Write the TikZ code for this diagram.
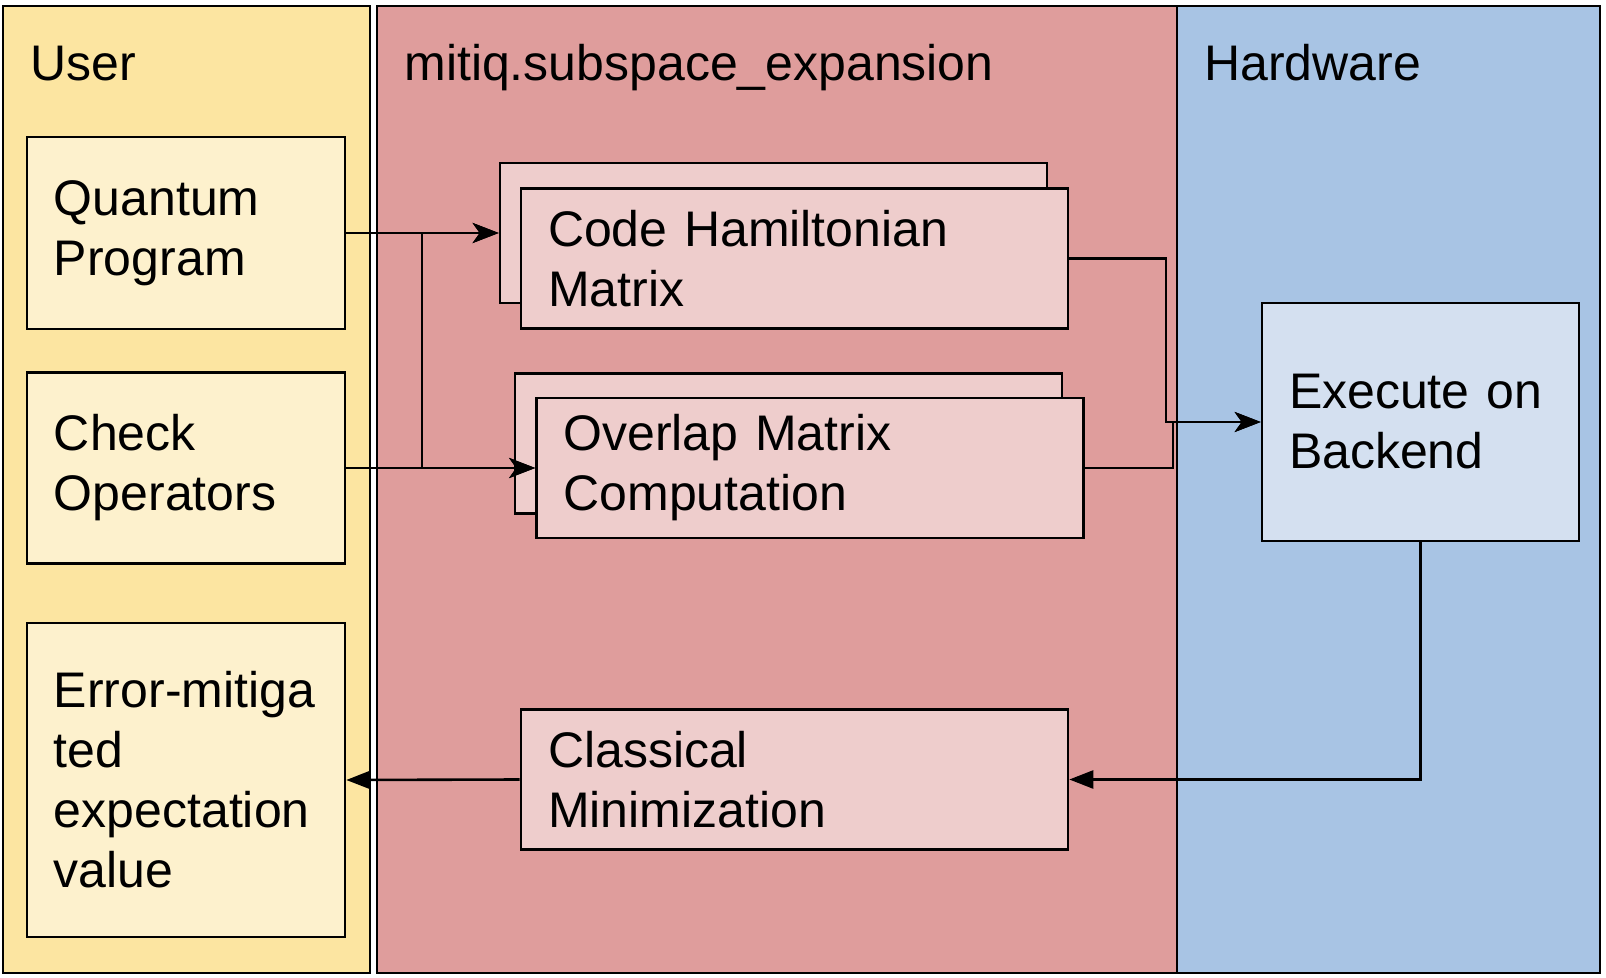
\documentclass[tikz,border=0pt]{standalone}
\usepackage{fontspec}
\setmainfont{Liberation Sans}
\usetikzlibrary{arrows.meta}
\definecolor{userbg}{HTML}{FCE5A1}
\definecolor{userbox}{HTML}{FDF1CD}
\definecolor{mitbg}{HTML}{DF9D9C}
\definecolor{mitbox}{HTML}{EECDCC}
\definecolor{hwbg}{HTML}{A8C4E4}
\definecolor{hwbox}{HTML}{D4E0F0}
\begin{document}
\begin{tikzpicture}[x=0.5pt,y=-0.5pt]
\tikzstyle{panel}=[draw, line width=1.3pt, rectangle, minimum height=483.5pt, inner sep=0pt]
\tikzstyle{title}=[anchor=base west, inner sep=0pt, font=\fontsize{25}{30}\selectfont]
\tikzstyle{box}=[draw, line width=1.3pt, rectangle, inner xsep=13.5pt, inner ysep=0pt, align=left, font=\fontsize{25}{30}\selectfont]
\tikzstyle{ubox}=[box, fill=userbox, minimum width=159pt, text width=132pt]
\tikzstyle{mbox}=[box, fill=mitbox, minimum width=273.5pt, minimum height=70pt, text width=246.5pt]
\tikzstyle{conn}=[draw, line width=1.3pt, -{Stealth[length=13pt,width=10pt,inset=3.5pt]}]
\tikzstyle{connb}=[draw, line width=1.3pt, -{Triangle[length=12pt,width=9pt]}]

\useasboundingbox (0,0) rectangle (1606,978);

% Define panels
\node[panel, fill=userbg, minimum width=183.5pt] (user) at (186.5,489.5) {};
\node[panel, fill=mitbg, minimum width=400pt] (mitiq) at (777,489.5) {};
\node[panel, fill=hwbg, minimum width=211.5pt] (hw) at (1388.5,489.5) {};

\node[title] (usertitle) at (30,81) {User};
\node[title] (mitiqtitle) at (404,81) {mitiq.subspace\_expansion};
\node[title] (hwtitle) at (1204,81) {Hardware};

% User boxes
\node[ubox, minimum height=96pt] (qp) at (186,233) {Quantum\\Program};
\node[ubox, minimum height=95.5pt] (co) at (186,468) {Check\\Operators};
\node[ubox, minimum height=157pt] (em) at (186,780) {\mbox{Error-mitiga}\\ted\\expectation\\value};

% Subspace expansion boxes
\node[mbox] (chamback) at (773.5,233) {};
\node[mbox] (cham) at (794.5,258.5) {Code Hamiltonian\\Matrix};
\node[mbox] (ovlback) at (788.5,443.5) {};
\node[mbox] (ovl) at (810,468) {Overlap Matrix\\Computation};
\node[mbox] (cmin) at (794.5,779.5) {Classical\\Minimization};

% Hardware box
\node[box, fill=hwbox, minimum width=158.5pt, minimum height=119pt, text width=131.5pt] (exec) at (1420.5,422) {\mbox{Execute on}\\Backend};

% Junction columns
\coordinate (jin) at (422,0);
\coordinate (jcham) at (1166,0);
\coordinate (jovl) at (1173,0);

% Connectors
\draw[conn] (qp.east) -- (chamback.west);
\draw[conn] (qp.east) -- (qp.east -| jin) |- (ovl.west);
\draw[conn] (co.east) -- (ovl.west);
\draw[conn] (co.east) -- (co.east -| jin) |- (chamback.west);
\draw[conn] (cham.east) -- (cham.east -| jcham) |- (exec.west);
\draw[conn] (ovl.east) -- (ovl.east -| jovl) |- (exec.west);
\draw[connb] (exec.south) |- (cmin.east);
\draw[connb] (cmin.west) -- (em.east);
\end{tikzpicture}
\end{document}
